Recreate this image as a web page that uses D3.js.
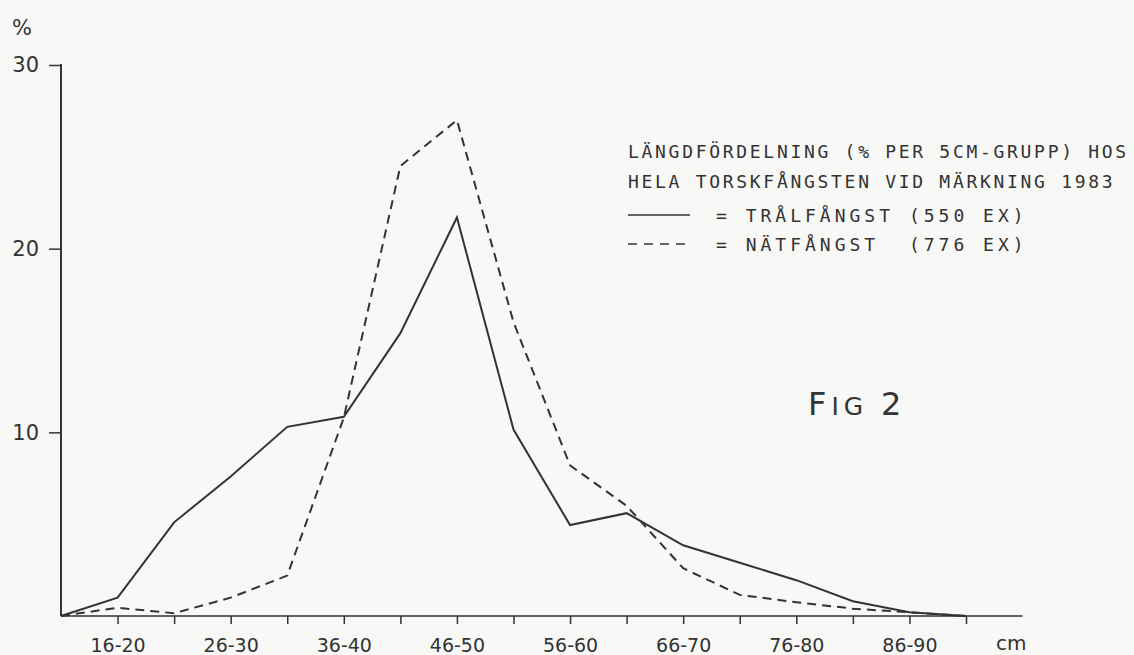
<!DOCTYPE html>
<html>
<head>
<meta charset="utf-8">
<script src="https://cdn.jsdelivr.net/npm/d3@7"></script>
<style>
  html, body { margin: 0; padding: 0; background: #f8f8f6; }
  svg { display: block; }
  text { font-family: "DejaVu Sans", sans-serif; fill: #333; }
  .mono { font-family: "DejaVu Sans Mono", monospace; white-space: pre; }
</style>
</head>
<body>
<svg id="chart" width="1134" height="655"></svg>
<script>
const categories = ["11-15","16-20","21-25","26-30","31-35","36-40","41-45","46-50","51-55","56-60","61-65","66-70","71-75","76-80","81-85","86-90","91-95"];
const tickLabels = ["16-20","26-30","36-40","46-50","56-60","66-70","76-80","86-90"];
const tralValues = [0, 1.0, 5.1, 7.6, 10.3, 10.85, 15.4, 21.7, 10.15, 4.95, 5.6, 3.85, 2.9, 1.95, 0.8, 0.2, 0];
const natValues  = [0, 0.45, 0.15, 1.0, 2.2, 10.8, 24.5, 27.0, 16.0, 8.2, 6.0, 2.6, 1.15, 0.75, 0.4, 0.2, 0];
const yTicks = [10, 20, 30];
const titleLines = ["LÄNGDFÖRDELNING (% PER 5CM-GRUPP) HOS", "HELA TORSKFÅNGSTEN VID MÄRKNING 1983"];
const legendLabels = ["= TRÅLFÅNGST (550 EX)", "= NÄTFÅNGST  (776 EX)"];

const svg = d3.select("#chart");
const ink = "#333";

const x = d3.scalePoint().domain(categories).range([61, 966]);
const step = x.step();
const y = d3.scaleLinear().domain([0, 30]).range([616, 65]);

// X axis
const xAxis = d3.axisBottom(x)
  .tickValues(categories.slice(1))
  .tickSize(8)
  .tickFormat(d => tickLabels.includes(d) ? d : "");
const gx = svg.append("g").attr("transform", `translate(0,${y(0)})`).call(xAxis);
gx.select(".domain").remove();
gx.selectAll(".tick line").attr("stroke", ink).attr("stroke-width", 1.5);
gx.selectAll(".tick text").attr("fill", ink).attr("font-size", 19).attr("y", 23)
  .attr("font-family", "DejaVu Sans, sans-serif");
svg.append("line").attr("x1", x(categories[0])).attr("x2", x(categories[categories.length-1]) + step)
  .attr("y1", y(0)).attr("y2", y(0)).attr("stroke", ink).attr("stroke-width", 1.5);
svg.append("text").attr("x", x(categories[categories.length-1]) + step * 0.8).attr("y", 650)
  .attr("text-anchor", "middle").attr("font-size", 20).text("cm");

// Y axis
const yAxis = d3.axisLeft(y).tickValues(yTicks).tickSize(12).tickPadding(10);
const gy = svg.append("g").attr("transform", `translate(${x(categories[0])},0)`).call(yAxis);
gy.select(".domain").remove();
gy.selectAll(".tick line").attr("stroke", ink).attr("stroke-width", 1.5);
gy.selectAll(".tick text").attr("fill", ink).attr("font-size", 21)
  .attr("font-family", "DejaVu Sans, sans-serif");
svg.append("line").attr("x1", x(categories[0])).attr("x2", x(categories[0]))
  .attr("y1", y(30) - 1).attr("y2", y(0)).attr("stroke", ink).attr("stroke-width", 2);
svg.append("text").attr("x", 12).attr("y", 35).attr("font-size", 21).text("%");

// Lines
const line = d3.line().x((d, i) => x(categories[i])).y(d => y(d));
svg.append("path").datum(tralValues).attr("d", line)
  .attr("fill", "none").attr("stroke", ink).attr("stroke-width", 2);
svg.append("path").datum(natValues).attr("d", line)
  .attr("fill", "none").attr("stroke", ink).attr("stroke-width", 2)
  .attr("stroke-dasharray", "9,6");

// Title / legend (typewriter text)
const tx = 628;
titleLines.forEach((s, i) => {
  svg.append("text").attr("class", "mono").attr("x", tx).attr("y", 158 + i * 30)
    .attr("font-size", 18).attr("letter-spacing", 2.7).text(s);
});
svg.append("line").attr("x1", tx).attr("x2", tx + 62).attr("y1", 215).attr("y2", 215)
  .attr("stroke", ink).attr("stroke-width", 1.5);
svg.append("line").attr("x1", tx).attr("x2", tx + 62).attr("y1", 244).attr("y2", 244)
  .attr("stroke", ink).attr("stroke-width", 1.5).attr("stroke-dasharray", "9,7");
legendLabels.forEach((s, i) => {
  svg.append("text").attr("class", "mono").attr("x", 716).attr("y", 222 + i * 29)
    .attr("font-size", 18).attr("letter-spacing", 4.0).text(s);
});

// Fig label
const fig = svg.append("text").attr("x", 808).attr("y", 415).attr("letter-spacing", 5);
fig.append("tspan").attr("font-size", 32).text("F");
fig.append("tspan").attr("font-size", 25).text("IG ");
fig.append("tspan").attr("font-size", 32).text("2");
</script>
</body>
</html>
